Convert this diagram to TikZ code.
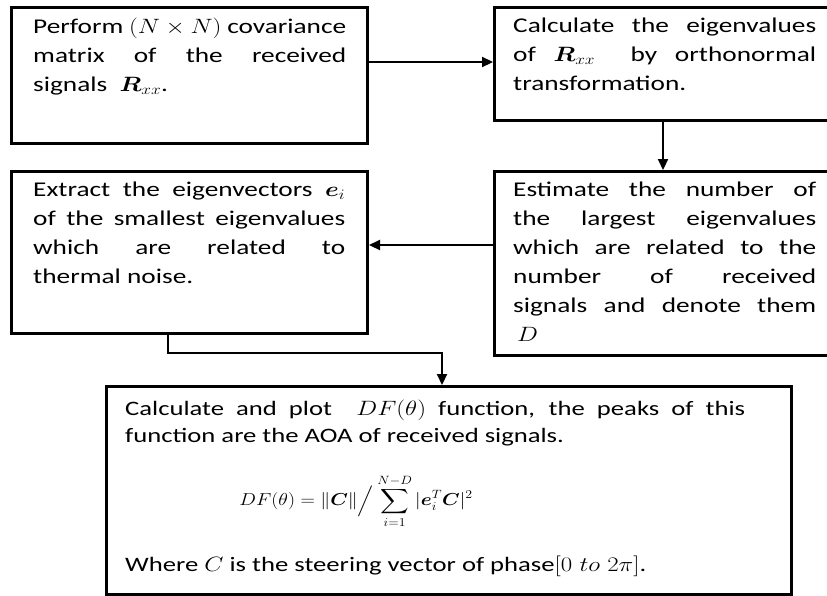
\documentclass[tikz,border=0pt]{standalone}
\usepackage{amsmath}
\usepackage{bm}
\usepackage{fontspec}
\setmainfont{Carlito}[FakeStretch=1.3]
\usetikzlibrary{arrows.meta,calc}
\tikzset{
  boxstyle/.style={draw=black, line width=3pt, inner sep=0pt, anchor=north west},
  txt/.style={anchor=north west, inner sep=0pt, align=justify, font=\fontsize{21}{29}\selectfont},
  txtb/.style={txt, font=\fontsize{20.5}{27}\selectfont},
  conn/.style={draw=black, line width=2.2pt, -{Triangle[length=11pt,width=10pt]}},
}
\newcommand{\sx}[1]{\scalebox{1.2}[1]{$#1$}}
\begin{document}
\begin{tikzpicture}[x=1pt,y=-1pt]
\useasboundingbox (0,0) rectangle (827,595);
\clip (0,0) rectangle (827,595);
\fill[white] (0,0) rectangle (827,595);
% boxes
\node[boxstyle, minimum width=356pt, minimum height=136pt] (b1) at (10,6) {};
\node[boxstyle, minimum width=340pt, minimum height=113pt] (b2) at (493,6) {};
\node[boxstyle, minimum width=356pt, minimum height=162pt] (b3) at (10,170) {};
\node[boxstyle, minimum width=340pt, minimum height=184pt] (b4) at (493,170) {};
\node[boxstyle, minimum width=685pt, minimum height=208pt] (b5) at (105,385) {};
% texts
\node[txt, text width=313pt] (t1) at (33,18) {Perform \sx{(N\times N)} covariance\linebreak matrix of the received\linebreak signals \ \sx{\bm{R}_{xx}}.};
\node[txt, text width=303pt] (t2) at (513,18) {Calculate the eigenvalues\linebreak of \sx{\bm{R}_{xx}} \ by orthonormal\linebreak transformation.};
\node[txt, text width=312pt] (t3) at (33,182) {Extract the eigenvectors \sx{\bm{e}_i}\linebreak of the smallest eigenvalues\linebreak which are related to\linebreak thermal noise.};
\node[txt, text width=303pt] (t4) at (513,182) {Estimate the number of\linebreak the largest eigenvalues\linebreak which are related to the\linebreak number of received\linebreak signals and denote them\linebreak\hspace*{4pt}\sx{D}};
\node[txtb, text width=620pt] (t5) at (125,400) {Calculate and plot \ \sx{DF(\theta)} function, the peaks of this\linebreak function are the AOA of received signals.};
\node[anchor=center, inner sep=0pt, font=\fontsize{17}{20}\selectfont] (f5) at (356,501) {\scalebox{1.15}[1]{$\displaystyle DF(\theta) = \|\bm{C}\|\Big/\sum_{i=1}^{N-D} |\bm{e}_i^T\bm{C}|^2$}};
\node[txtb] (t6) at (125,556) {Where \sx{C} is the steering vector of phase\sx{[0\ to\ 2\pi]}.};
% connectors
\draw[conn] (b1.east |- 0,62) -- (b2.west |- 0,62);
\draw[conn] (663,0 |- b2.south) -- (663,0 |- b4.north);
\draw[conn] (b4.west |- 0,245) -- (b3.east |- 0,245);
\coordinate (k1) at (168,353);
\coordinate (k2) at (442,353);
\draw[conn] (168,0 |- b3.south) -- (k1) -- (k2) -- (442,0 |- b5.north);
\end{tikzpicture}
\end{document}
